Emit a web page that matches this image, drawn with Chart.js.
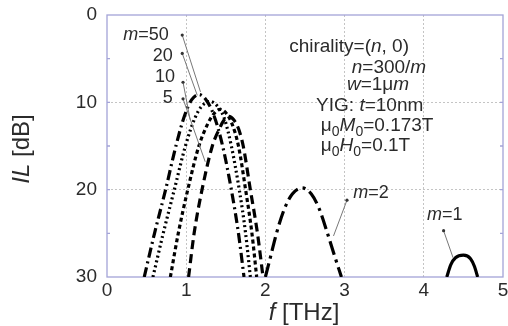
<!DOCTYPE html>
<html>
<head>
<meta charset="utf-8">
<script src="https://cdn.jsdelivr.net/npm/chart.js@4"></script>
<style>
html, body { margin: 0; padding: 0; background: #fff; }
</style>
</head>
<body>
<canvas id="c" width="508" height="326"></canvas>
<script>
// values: f [THz] and IL [dB]
const f50 = [0.47, 0.6, 0.74, 0.87, 0.98, 1.07, 1.16, 1.25, 1.35, 1.46, 1.57, 1.66, 1.73];
const il50 = [30, 25, 20, 15, 11.5, 9.7, 9.1, 9.7, 11.5, 15, 20, 25, 30];
const f20 = [0.58, 0.71, 0.85, 0.99, 1.11, 1.2, 1.3, 1.39, 1.48, 1.57, 1.67, 1.75, 1.81];
const il20 = [30, 25, 20, 15, 11.8, 10.4, 9.9, 10.4, 11.8, 15, 20, 25, 30];
const f10 = [0.8, 0.9, 1.02, 1.16, 1.27, 1.35, 1.43, 1.51, 1.58, 1.66, 1.75, 1.83, 1.89];
const il10 = [30, 25, 20, 15, 12.5, 11.3, 10.8, 11.3, 12.5, 15, 20, 25, 30];
const f5 = [1.03, 1.1, 1.2, 1.33, 1.42, 1.48, 1.54, 1.6, 1.66, 1.72, 1.81, 1.9, 1.97];
const il5 = [30, 25, 20, 15, 13, 12, 11.6, 12, 13, 15, 20, 25, 30];
const f2 = [2.0, 2.07, 2.14, 2.24, 2.34, 2.46, 2.58, 2.68, 2.77, 2.86, 2.96];
const il2 = [30, 27.5, 25, 22.2, 20.5, 19.8, 20.5, 22.2, 24.6, 27.2, 30];
const f1 = [4.29, 4.34, 4.4, 4.5, 4.59, 4.64, 4.68];
const il1 = [30, 28.6, 27.8, 27.5, 27.9, 28.8, 30];

const fTicks = [0, 1, 2, 3, 4, 5];
const ilTicks = [0, 10, 20, 30];

// curve labels: text, label anchor, pointer start (dot), pointer end
const mLabels = ['m=50', '20', '10', '5', 'm=2', 'm=1'];
const labelF = [0.78, 0.83, 0.86, 0.83, 3.11, 4.04];
const labelIL = [2.3, 4.7, 7.1, 9.5, 20.4, 22.9];
const dotF = [0.95, 0.95, 0.96, 0.96, 3.03, 4.25];
const dotIL = [2.3, 4.4, 7.7, 9.6, 21.2, 24.7];
const tipF = [1.18, 1.14, 1.05, 1.24, 2.86, 4.37];
const tipIL = [8.8, 9.2, 12.0, 16.8, 25.3, 27.8];

const pts = (xs, ys) => xs.map((x, i) => ({ x: x, y: ys[i] }));

const FONT = '"Liberation Sans", Arial, sans-serif';
const TXT = '#2b2b2b';
const FRAME = '#a4a4d8';

function curve(xs, ys, dash) {
  return {
    data: pts(xs, ys),
    showLine: true,
    borderColor: '#000',
    borderWidth: 3.2,
    borderDash: dash,
    borderCapStyle: 'butt',
    pointRadius: 0,
    cubicInterpolationMode: 'monotone',
    fill: false
  };
}

function runFont(r, size) {
  return (r.i ? 'italic ' : '') + Math.round(r.sub ? size * 0.72 : size) + 'px ' + FONT;
}

function drawRuns(ctx, runs, x, y, size, align) {
  let w = 0;
  runs.forEach(r => { ctx.font = runFont(r, size); w += ctx.measureText(r.t).width; });
  let cx = align === 'right' ? x - w : (align === 'center' ? x - w / 2 : x);
  runs.forEach(r => {
    ctx.font = runFont(r, size);
    ctx.fillText(r.t, cx, y + (r.sub ? size * 0.32 : 0));
    cx += ctx.measureText(r.t).width;
  });
}

const notes = [
  { f: 2.30, il: 3.67, runs: [{ t: 'chirality=(' }, { t: 'n', i: true }, { t: ', 0)' }] },
  { f: 3.09, il: 6.07, runs: [{ t: 'n', i: true }, { t: '=300/' }, { t: 'm', i: true }] },
  { f: 3.03, il: 8.02, runs: [{ t: 'w', i: true }, { t: '=1\u03bc' }, { t: 'm', i: true }] },
  { f: 2.64, il: 10.42, runs: [{ t: 'YIG: ' }, { t: 't', i: true }, { t: '=10nm' }] },
  { f: 2.70, il: 12.71, runs: [{ t: '\u03bc' }, { t: '0', sub: true }, { t: 'M', i: true }, { t: '0', sub: true }, { t: '=0.173T' }] },
  { f: 2.70, il: 15.0, runs: [{ t: '\u03bc' }, { t: '0', sub: true }, { t: 'H', i: true }, { t: '0', sub: true }, { t: '=0.1T' }] }
];

const deco = {
  id: 'deco',
  beforeDatasetsDraw(chart) {
    const ctx = chart.ctx, a = chart.chartArea, ys = chart.scales.y;
    ctx.save();
    ctx.strokeStyle = FRAME;
    ctx.lineWidth = 1.3;
    ctx.strokeRect(a.left, a.top, a.right - a.left, a.bottom - a.top);
    // small ticks on the left and right frame
    [5, 10, 15, 20, 25].forEach(v => {
      const py = ys.getPixelForValue(v);
      ctx.beginPath();
      ctx.moveTo(a.left, py); ctx.lineTo(a.left + 3, py);
      ctx.moveTo(a.right, py); ctx.lineTo(a.right - 3, py);
      ctx.stroke();
    });
    ctx.restore();
  },
  afterDatasetsDraw(chart) {
    const ctx = chart.ctx, xs = chart.scales.x, ys = chart.scales.y;
    ctx.save();
    // pointer lines
    ctx.strokeStyle = '#777';
    ctx.fillStyle = '#333';
    ctx.lineWidth = 1;
    mLabels.forEach((t, i) => {
      const x0 = xs.getPixelForValue(dotF[i]), y0 = ys.getPixelForValue(dotIL[i]);
      const x1 = xs.getPixelForValue(tipF[i]), y1 = ys.getPixelForValue(tipIL[i]);
      ctx.beginPath(); ctx.moveTo(x0, y0); ctx.lineTo(x1, y1); ctx.stroke();
      ctx.beginPath(); ctx.arc(x0, y0, 1.6, 0, Math.PI * 2); ctx.fill();
    });
    // labels
    ctx.fillStyle = TXT;
    ctx.textBaseline = 'middle';
    mLabels.forEach((t, i) => {
      const x = xs.getPixelForValue(labelF[i]), y = ys.getPixelForValue(labelIL[i]);
      const runs = t.startsWith('m=') ? [{ t: 'm', i: true }, { t: t.slice(1) }] : [{ t: t }];
      drawRuns(ctx, runs, x, y, 18, i < 4 ? 'right' : 'left');
    });
    notes.forEach(n => {
      drawRuns(ctx, n.runs, xs.getPixelForValue(n.f), ys.getPixelForValue(n.il), 19, 'left');
    });
    // axis titles
    drawRuns(ctx, [{ t: 'f', i: true }, { t: ' [THz]' }], 304, 313, 24, 'center');
    ctx.translate(22, 149);
    ctx.rotate(-Math.PI / 2);
    drawRuns(ctx, [{ t: 'IL', i: true }, { t: ' [dB]' }], 0, 0, 24, 'center');
    ctx.restore();
  }
};

const gridColor = ctx => (ctx.tick && (ctx.tick.value === ctx.scale.min || ctx.tick.value === ctx.scale.max)) ? 'rgba(0,0,0,0)' : '#c4c4c4';

new Chart(document.getElementById('c').getContext('2d'), {
  type: 'scatter',
  data: {
    datasets: [
      curve(f50, il50, [10, 4, 2, 4]),
      curve(f20, il20, [2, 3]),
      curve(f10, il10, [4, 3]),
      curve(f5, il5, [9, 5]),
      curve(f2, il2, [14, 5, 3, 5]),
      curve(f1, il1, [])
    ]
  },
  options: {
    responsive: false,
    animation: false,
    layout: { padding: { top: 15, right: 5, left: 0, bottom: 0 } },
    plugins: { legend: { display: false }, tooltip: { enabled: false } },
    scales: {
      x: {
        type: 'linear', min: 0, max: 5,
        afterBuildTicks: s => { s.ticks = fTicks.map(v => ({ value: v })); },
        afterFit: s => { s.height = 49; s.paddingLeft = 0; s.paddingRight = 0; },
        ticks: { color: TXT, font: { size: 19, family: FONT }, padding: 2, maxRotation: 0 },
        grid: { color: gridColor, lineWidth: 1, drawTicks: false },
        border: { display: false, dash: [2, 2] }
      },
      y: {
        type: 'linear', min: 0, max: 30, reverse: true,
        afterBuildTicks: s => { s.ticks = ilTicks.map(v => ({ value: v })); },
        afterFit: s => { s.width = 107; s.paddingTop = 0; s.paddingBottom = 0; },
        ticks: { color: TXT, font: { size: 19, family: FONT }, padding: 10 },
        grid: { color: gridColor, lineWidth: 1, drawTicks: false },
        border: { display: false, dash: [2, 2] }
      }
    }
  },
  plugins: [deco]
});
</script>
</body>
</html>
